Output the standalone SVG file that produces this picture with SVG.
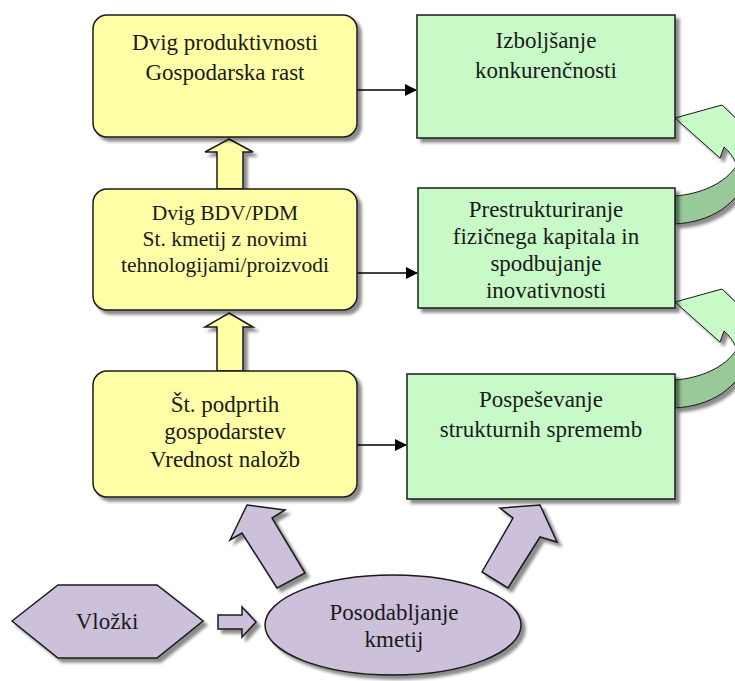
<svg xmlns="http://www.w3.org/2000/svg" width="735" height="681" viewBox="0 0 735 681">
<style>
.y{fill:#ffffa8;stroke:#1a1a1a;stroke-width:1.5}
.g{fill:#c8fac8;stroke:#1a1a1a;stroke-width:1.5}
.p{fill:#ccc0da;stroke:#1a1a1a;stroke-width:1.5}
.gl{fill:#c8fac8;stroke:#1a1a1a;stroke-width:1}
.gd{fill:#99c999;stroke:#1a1a1a;stroke-width:1}
.c{fill:none;stroke:#000;stroke-width:1.3}
</style>
<defs>
<filter id="sh" x="-20%" y="-20%" width="140%" height="140%">
<feGaussianBlur in="SourceAlpha" stdDeviation="1.5"/>
<feOffset dx="4" dy="4" result="b"/>
<feFlood flood-color="#000" flood-opacity="0.45"/>
<feComposite in2="b" operator="in"/>
<feMerge><feMergeNode/><feMergeNode in="SourceGraphic"/></feMerge>
</filter>
<marker id="ah" markerWidth="12" markerHeight="12" refX="11" refY="6" orient="auto" markerUnits="userSpaceOnUse">
<path d="M0,0 L12,6 L0,12 Z" fill="#000"/>
</marker>
</defs>

<g id="connectors">
<line class="c" x1="357" y1="90" x2="416" y2="90" marker-end="url(#ah)"/>
<line class="c" x1="357" y1="273" x2="417" y2="273" marker-end="url(#ah)"/>
<line class="c" x1="357" y1="445" x2="406" y2="445" marker-end="url(#ah)"/>
<path class="y" filter="url(#sh)" d="M229,139 L253,152 L243,152 L243,189 L217,189 L217,152 L205,152 Z"/>
<path class="y" filter="url(#sh)" d="M229,313 L253,327 L243,327 L243,371 L217,371 L217,327 L205,327 Z"/>
<path class="p" filter="url(#sh)" d="M247,505 L285,510 L272,518 L305,573 L277,588 L242,533 L230,540 Z"/>
<path class="p" filter="url(#sh)" d="M540,505 L557,542 L540,537 L508,588 L482,572 L513,518 L500,508 Z"/>
<path class="p" filter="url(#sh)" d="M218,615 L242,615 L242,607 L256,622 L242,637 L242,629 L218,629 Z"/>
<g filter="url(#sh)">
<path class="gd" d="M675,196 C700,194 725,184 737,165 L748,172 C740,205 710,222 675,224 Z"/>
<path class="gl" d="M675,118 L722,105 L748,130 L748,172 L737,165 C733,157 729,151 724,147 L720,158 Z"/>
</g>
<g filter="url(#sh)" transform="translate(0,184)">
<path class="gd" d="M675,196 C700,194 725,184 737,165 L748,172 C740,205 710,222 675,224 Z"/>
<path class="gl" d="M675,118 L722,105 L748,130 L748,172 L737,165 C733,157 729,151 724,147 L720,158 Z"/>
</g>
</g>

<g font-family="Liberation Serif, DejaVu Serif, serif" font-size="23" fill="#1a1a1a" text-anchor="middle">
<g id="n1">
<rect class="y" filter="url(#sh)" x="93" y="15" width="264" height="122" rx="14"/>
<text x="225" y="50">Dvig produktivnosti</text>
<text x="225" y="80">Gospodarska rast</text>
</g>
<g id="n2">
<rect class="y" filter="url(#sh)" x="93" y="189" width="264" height="121" rx="14"/>
<text font-size="21.5" x="225" y="220">Dvig BDV/PDM</text>
<text font-size="21.5" x="225" y="246">St. kmetij z novimi</text>
<text font-size="21.5" x="225" y="272">tehnologijami/proizvodi</text>
</g>
<g id="n3">
<rect class="y" filter="url(#sh)" x="93" y="371" width="264" height="126" rx="14"/>
<text x="225" y="412">Št. podprtih</text>
<text x="225" y="439">gospodarstev</text>
<text x="225" y="467">Vrednost naložb</text>
</g>
<g id="n4">
<rect class="g" filter="url(#sh)" x="417" y="15" width="258" height="123"/>
<text x="546" y="48">Izboljšanje</text>
<text x="546" y="78">konkurenčnosti</text>
</g>
<g id="n5">
<rect class="g" filter="url(#sh)" x="418" y="188" width="257" height="120"/>
<text x="546" y="217">Prestrukturiranje</text>
<text x="546" y="244">fizičnega kapitala  in</text>
<text x="546" y="271">spodbujanje</text>
<text x="546" y="298">inovativnosti</text>
</g>
<g id="n6">
<rect class="g" filter="url(#sh)" x="407" y="374" width="268" height="125"/>
<text x="541" y="407">Pospeševanje</text>
<text x="541" y="437">strukturnih sprememb</text>
</g>
<g id="n7">
<polygon class="p" filter="url(#sh)" points="12,621 58,585 157,585 203,621 157,658 58,658"/>
<text x="107" y="629">Vložki</text>
</g>
<g id="n8">
<ellipse class="p" filter="url(#sh)" cx="393" cy="625" rx="128" ry="50"/>
<text x="394" y="620">Posodabljanje</text>
<text x="394" y="647">kmetij</text>
</g>
</g>
</svg>
